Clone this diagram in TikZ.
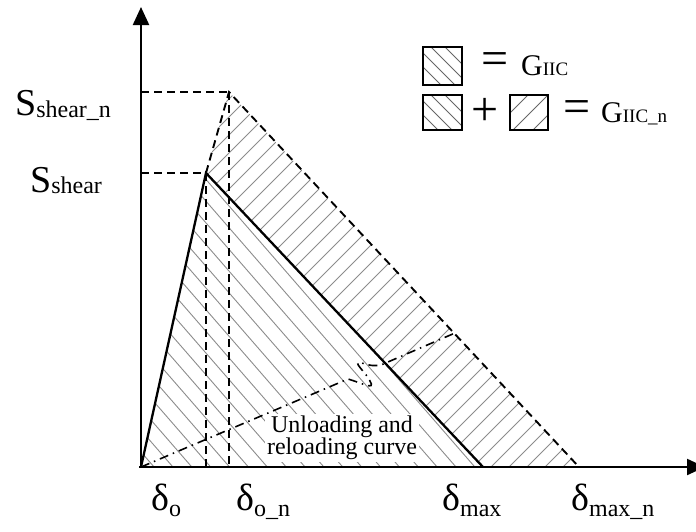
\documentclass[tikz,border=0pt]{standalone}
\usepackage{fontspec}
\setmainfont{Liberation Serif}
\usetikzlibrary{arrows.meta}
\newcommand{\lowsub}[2][-3pt]{\raisebox{#1}{\fontsize{24}{24}\selectfont #2}}
\newcommand{\gsub}[1]{{\fontsize{19}{19}\selectfont #1}}
\begin{document}
\begin{tikzpicture}[x=1pt,y=-1pt,
 axisline/.style={line width=2.2pt,-{Triangle[length=18pt,width=16pt]}},
 hatchline/.style={draw=black!45,line width=0.9pt},
 boxhatch/.style={draw=black!60,line width=0.9pt},
 solidedge/.style={line width=2.3pt,line join=miter},
 dashedge/.style={line width=1.9pt,dash pattern=on 8pt off 5pt},
 dashdotedge/.style={line width=1.6pt,dash pattern=on 9pt off 5pt on 1.5pt off 5pt},
 bigtxt/.style={inner sep=0pt,anchor=base west,font=\fontsize{38}{40}\selectfont},
 symtxt/.style={inner sep=0pt,font=\fontsize{48}{48}\selectfont},
 gtxt/.style={inner sep=0pt,anchor=base west,font=\fontsize{30}{30}\selectfont},
 legbox/.style={draw=black,line width=2pt},
 curvetxt/.style={fill=white,inner sep=2pt,align=center,font=\fontsize{24}{22}\selectfont}
]
\useasboundingbox (0,0) rectangle (696,531);
% key points
\coordinate (O) at (141,467);
\coordinate (P) at (206,173);
\coordinate (Q) at (229,92);
\coordinate (M) at (483,467);
\coordinate (N) at (579,467);
\coordinate (E) at (455,333);
\coordinate (Yt) at (141,7);
\coordinate (Xt) at (705,467);
% inner hatch
\begin{scope}
\clip (O) -- (P) -- (M) -- cycle;
\foreach \k in {-18,...,16}
  \draw[hatchline] (100,{101+21.7*\k}) -- (650,{733.5+21.7*\k});
\end{scope}
% outer hatch
\begin{scope}
\clip (P) -- (Q) -- (N) -- (M) -- cycle;
\foreach \k in {0,...,42}
  \draw[hatchline] (150,{160+18*\k}) -- (650,{-340+18*\k});
\end{scope}
% text on white
\node[curvetxt] (ul) at (342,438) {Unloading and\\reloading curve};
% dashed guides
\draw[dashedge] (P) -- (Q) -- (N);
\draw[dashedge] (Q) -- (Q |- O);
\draw[dashedge] (P) -- (P |- O);
\draw[dashedge] (Q -| O) -- (Q);
\draw[dashedge] (P -| O) -- (P);
% dash-dot unloading curve
\draw[dashdotedge] (O) -- (348,379) .. controls (362,383) and (376,391) .. (370,381)
  .. controls (366,372) and (350,360) .. (362,363)
  .. controls (370,366) and (375,366) .. (381,365) -- (E);
% solid triangle
\draw[solidedge] (O) -- (P) -- (M);
% axes
\draw[axisline] (O) -- (Yt);
\draw[axisline] (139,467) -- (Xt);
% axis labels
\node[bigtxt] (sn) at (15,115) {S\lowsub[-2pt]{shear\_n}};
\node[bigtxt] (ss) at (30,192) {S\lowsub[-1pt]{shear}};
\node[bigtxt] (d1) at (151,510) {δ\lowsub[-6pt]{o}};
\node[bigtxt] (d2) at (236,510) {δ\lowsub[-6pt]{o\_n}};
\node[bigtxt] (d3) at (442,510) {δ\lowsub[-6pt]{max}};
\node[bigtxt] (d4) at (571,510) {δ\lowsub[-6pt]{max\_n}};
% legend
\begin{scope}
\clip (423,47) rectangle (462,85);
\foreach \d in {-22,-8,6,20}
  \draw[boxhatch] (423,{47+\d}) -- (473,{97+\d});
\end{scope}
\draw[legbox] (423,47) rectangle (462,85);
\node[symtxt] (eq1) at (495,64) {=};
\node[gtxt] (g1) at (521,75) {G\gsub{IIC}};
\begin{scope}
\clip (423,95) rectangle (462,130);
\foreach \d in {-22,-8,6,20}
  \draw[boxhatch] (423,{95+\d}) -- (473,{145+\d});
\end{scope}
\draw[legbox] (423,95) rectangle (462,130);
\node[symtxt] (plus) at (485,112) {+};
\begin{scope}
\clip (510,95) rectangle (548,130);
\foreach \e in {18,38,58}
  \draw[boxhatch] (500,{95+\e+10}) -- (560,{95+\e-50});
\end{scope}
\draw[legbox] (510,95) rectangle (548,130);
\node[symtxt] (eq2) at (577,112) {=};
\node[gtxt] (g2) at (601,122) {G\gsub{IIC\_n}};
\end{tikzpicture}
\end{document}
